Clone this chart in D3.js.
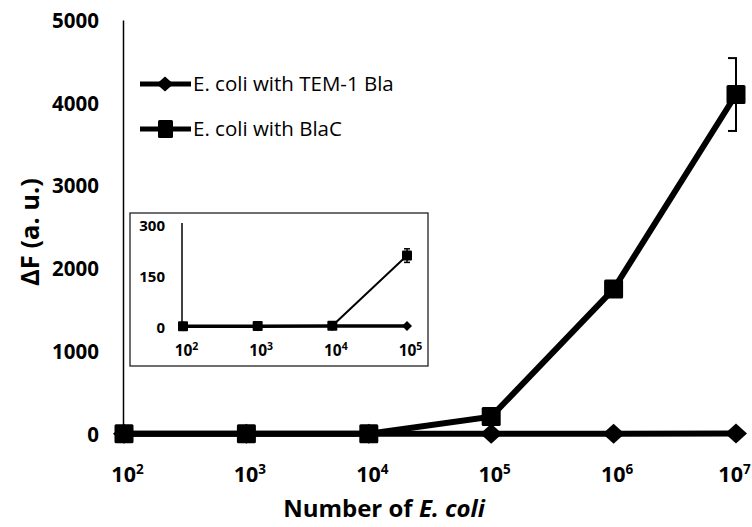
<!DOCTYPE html>
<html>
<head>
<meta charset="utf-8">
<script src="https://cdn.jsdelivr.net/npm/d3@7"></script>
<style>
  html, body { margin: 0; padding: 0; background: #fff; }
  svg { display: block; }
  text { font-family: "Open Sans", "Liberation Sans", sans-serif; fill: #000; }
</style>
</head>
<body>
<div id="chart"></div>
<script>
// ---- data ----
const exponents = [2, 3, 4, 5, 6, 7];
const counts = [1e2, 1e3, 1e4, 1e5, 1e6, 1e7];
const tem1Values = [2, 2, 3, 3, 4, 5];
const blacValues = [2, 3, 4, 210, 1750, 4100];
const blacErrors = [1, 1, 2, 20, 80, 440];
const yTicks = [0, 1000, 2000, 3000, 4000, 5000];
const insetExponents = [2, 3, 4, 5];
const insetYTicks = [0, 150, 300];
const seriesNames = ["E. coli with TEM-1 Bla", "E. coli with BlaC"];

const W = 752, H = 527;
const svg = d3.select("#chart").append("svg").attr("width", W).attr("height", H);

// ---- main scales ----
const x = d3.scaleLog().domain([1e2, 1e7]).range([124, 736]);
const y = d3.scaleLinear().domain([0, 5000]).range([434, 20]);

const diamondPath = (w, h) => `M0,${-h}L${w},0L0,${h}L${-w},0Z`;

// y axis
const yAxis = svg.append("g").attr("transform", "translate(123,0)")
  .call(d3.axisLeft(y).tickValues(yTicks).tickSize(0).tickSizeOuter(0).tickPadding(24).tickFormat(d3.format("d")));
yAxis.select(".domain").attr("stroke", "#000").attr("stroke-width", 1.5);
yAxis.selectAll(".tick text").attr("font-size", 20.5).attr("font-weight", "bold")
  .attr("font-family", "Open Sans").attr("dy", "0.36em");

// x axis labels with superscripts
const xAxis = svg.append("g").attr("transform", "translate(0,434)")
  .call(d3.axisBottom(x).tickValues(counts).tickSize(0).tickFormat(""));
xAxis.select(".domain").remove();
xAxis.selectAll(".tick").each(function(d, i) {
  const t = d3.select(this).append("text")
    .attr("x", i === counts.length - 1 ? -2 : 3).attr("y", 48).attr("text-anchor", "middle")
    .attr("font-size", 21.5).attr("font-weight", "bold");
  t.append("tspan").text("10");
  t.append("tspan").attr("dy", -8).attr("font-size", 13.5).text(exponents[i]);
});

// axis titles
const xt = svg.append("text").attr("x", 384).attr("y", 517).attr("text-anchor", "middle")
  .attr("font-size", 24).attr("font-weight", "bold");
xt.append("tspan").text("Number of ");
xt.append("tspan").attr("font-style", "italic").text("E. coli");

svg.append("text").attr("transform", "translate(39,232) rotate(-90)")
  .attr("text-anchor", "middle").attr("font-size", 25.5).attr("font-weight", "bold")
  .text("\u0394F (a. u.)");

// ---- main series ----
const tem = counts.map((c, i) => ({ c, v: tem1Values[i] }));
const bla = counts.map((c, i) => ({ c, v: blacValues[i], e: blacErrors[i] }));
const line = d3.line().x(d => x(d.c)).y(d => y(d.v));

// error bars (BlaC)
const eb = svg.append("g");
bla.forEach(d => {
  const x0 = x(d.c);
  eb.append("line").attr("x1", x0).attr("x2", x0).attr("y1", y(d.v + d.e)).attr("y2", y(d.v - d.e))
    .attr("stroke", "#000").attr("stroke-width", 2);
  [d.v + d.e, d.v - d.e].forEach(v => {
    eb.append("line").attr("x1", x0 - 8).attr("x2", x0 + 1).attr("y1", y(v)).attr("y2", y(v))
      .attr("stroke", "#000").attr("stroke-width", 2);
  });
});

svg.append("path").datum(tem).attr("d", line).attr("fill", "none").attr("stroke", "#000").attr("stroke-width", 6);
svg.append("g").selectAll("path").data(tem).join("path")
  .attr("transform", d => `translate(${x(d.c)},${y(d.v)})`).attr("d", diamondPath(11, 10)).attr("fill", "#000");

svg.append("path").datum(bla).attr("d", line).attr("fill", "none").attr("stroke", "#000").attr("stroke-width", 6);
svg.append("g").selectAll("rect").data(bla).join("rect")
  .attr("x", d => x(d.c) - 9.5).attr("y", d => y(d.v) - 9.5).attr("width", 19).attr("height", 19)
  .attr("rx", 1.5).attr("fill", "#000");

// ---- legend ----
const leg = svg.append("g");
[84, 129].forEach((ly, i) => {
  leg.append("line").attr("x1", 140).attr("x2", 191).attr("y1", ly).attr("y2", ly)
    .attr("stroke", "#000").attr("stroke-width", 5);
  if (i === 0) {
    leg.append("path").attr("transform", `translate(165,${ly})`).attr("d", diamondPath(8.5, 7.5)).attr("fill", "#000");
  } else {
    leg.append("rect").attr("x", 158).attr("y", ly - 9).attr("width", 15).attr("height", 18).attr("rx", 1.5).attr("fill", "#000");
  }
  leg.append("text").attr("x", 193).attr("y", ly).attr("dy", "0.36em")
    .attr("font-size", 20.5).text(seriesNames[i]);
});

// ---- inset ----
const inset = svg.append("g");
inset.append("rect").attr("x", 130).attr("y", 213).attr("width", 298).attr("height", 153)
  .attr("fill", "#fff").attr("stroke", "#222").attr("stroke-width", 1.3);

const insetCounts = insetExponents.map(e => Math.pow(10, e));
const xi = d3.scaleLog().domain([1e2, 1e5]).range([183, 407]);
const yi = d3.scaleLinear().domain([0, 300]).range([327, 225]);

const yiAxis = inset.append("g").attr("transform", "translate(182,0)")
  .call(d3.axisLeft(yi).tickValues(insetYTicks).tickSize(0).tickSizeOuter(0).tickPadding(17).tickFormat(d3.format("d")));
yiAxis.select(".domain").attr("stroke", "#000").attr("stroke-width", 1.5).attr("d", `M0,${yi(0)}V${yi(300) - 2}`);
yiAxis.selectAll(".tick text").attr("font-size", 15).attr("font-weight", "bold").attr("dy", "0.36em");

const xiAxis = inset.append("g").attr("transform", "translate(0,327)")
  .call(d3.axisBottom(xi).tickValues(insetCounts).tickSize(0).tickFormat(""));
xiAxis.select(".domain").remove();
xiAxis.selectAll(".tick").each(function(d, i) {
  const t = d3.select(this).append("text")
    .attr("x", 3).attr("y", 29).attr("text-anchor", "middle")
    .attr("font-size", 15.5).attr("font-weight", "bold");
  t.append("tspan").text("10");
  t.append("tspan").attr("dy", -6).attr("font-size", 10.5).text(insetExponents[i]);
});

const temI = insetCounts.map((c, i) => ({ c, v: tem1Values[i] }));
const blaI = insetCounts.map((c, i) => ({ c, v: blacValues[i], e: blacErrors[i] }));
const lineI = d3.line().x(d => xi(d.c)).y(d => yi(d.v));

inset.append("path").datum(temI).attr("d", lineI).attr("fill", "none").attr("stroke", "#000").attr("stroke-width", 3.5);
inset.append("g").selectAll("path").data(temI).join("path")
  .attr("transform", d => `translate(${xi(d.c)},${yi(d.v)})`).attr("d", diamondPath(5, 5)).attr("fill", "#000");

blaI.forEach(d => {
  const x0 = xi(d.c);
  inset.append("line").attr("x1", x0).attr("x2", x0).attr("y1", yi(d.v + d.e)).attr("y2", yi(d.v - d.e))
    .attr("stroke", "#000").attr("stroke-width", 1.5);
  [d.v + d.e, d.v - d.e].forEach(v => {
    inset.append("line").attr("x1", x0 - 3).attr("x2", x0 + 3).attr("y1", yi(v)).attr("y2", yi(v))
      .attr("stroke", "#000").attr("stroke-width", 1.5);
  });
});
inset.append("path").datum(blaI).attr("d", lineI).attr("fill", "none").attr("stroke", "#000").attr("stroke-width", 2);
inset.append("g").selectAll("rect").data(blaI).join("rect")
  .attr("x", d => xi(d.c) - 5).attr("y", d => yi(d.v) - 5).attr("width", 10).attr("height", 10)
  .attr("rx", 1).attr("fill", "#000");
</script>
</body>
</html>
